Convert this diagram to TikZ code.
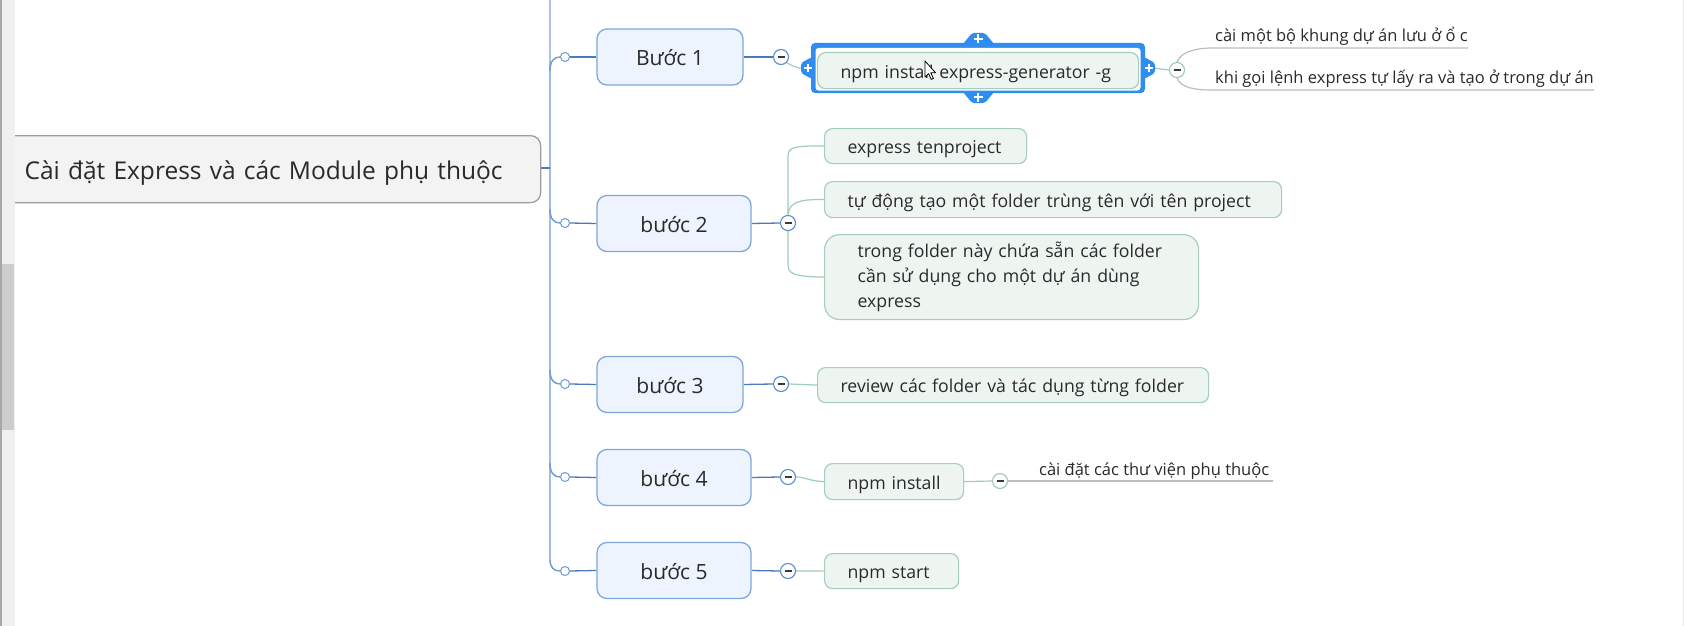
\documentclass[tikz,border=0pt]{standalone}
\usepackage{fontspec}
\setmainfont{Open Sans}
\usetikzlibrary{calc}
\definecolor{stepfill}{HTML}{EEF4FD}
\definecolor{stepborder}{HTML}{7FA7DC}
\definecolor{rootfill}{HTML}{F3F3F3}
\definecolor{rootborder}{HTML}{9E9E9E}
\definecolor{childfill}{HTML}{EEF5F1}
\definecolor{childborder}{HTML}{A5CFBC}
\definecolor{trunkc}{HTML}{6C9AD4}
\definecolor{trunklight}{HTML}{A9C6EA}
\definecolor{branchc}{HTML}{4B7BBB}
\definecolor{greenc}{HTML}{9FCDB7}
\definecolor{notec}{HTML}{BDBDBD}
\definecolor{selblue}{HTML}{2F8DF2}
\definecolor{txt}{HTML}{2A2A2A}
\definecolor{minusblue}{HTML}{5B8CCF}
\definecolor{minusgreen}{HTML}{9CCBB5}
\definecolor{minusdash}{HTML}{3A3A3A}
\definecolor{scrollbg}{HTML}{F0F0F0}
\definecolor{scrollline}{HTML}{A8A8A8}
\definecolor{scrollthumb}{HTML}{CDCDCD}
\definecolor{edgec}{HTML}{E8E8E8}
\pgfdeclarelayer{bg}
\pgfdeclarelayer{mid}
\pgfsetlayers{bg,mid,main}
\begin{document}
\begin{tikzpicture}[x=1pt,y=-1pt,
  rootbox/.style={draw=rootborder, fill=rootfill, line width=1.3pt, rounded corners=10pt,
    anchor=north west, align=left, inner ysep=0pt, text=txt, text height=24pt, text depth=3pt,
    font=\fontsize{24.5}{29}\selectfont},
  stepbox/.style={draw=stepborder, fill=stepfill, line width=1.3pt, rounded corners=10pt,
    minimum height=56pt, inner sep=0pt, align=center, text=txt, text height=20pt, text depth=2pt,
    font=\fontsize{21}{25}\selectfont},
  childbox/.style={draw=childborder, fill=childfill, line width=1.2pt, rounded corners=8pt,
    anchor=north west, inner xsep=23pt, inner ysep=0pt, align=left, text=txt,
    font=\fontsize{17.7}{25}\selectfont},
  onel/.style={text height=17pt, text depth=2pt},
  note/.style={anchor=base west, inner sep=0pt, text=txt, font=\fontsize{16.5}{20}\selectfont},
  dot/.style={circle, draw=trunkc, fill=white, line width=1pt, minimum size=9pt, inner sep=0pt},
  minus/.style={circle, draw=#1, fill=white, line width=1.1pt, minimum size=15pt, inner sep=0pt,
    path picture={\draw[line width=1.2pt, draw=minusdash]
      ($(path picture bounding box.center)+(-3.5,0)$) -- ($(path picture bounding box.center)+(3.5,0)$);}},
  trunk/.style={draw=trunkc, line width=1.4pt},
  branch/.style={draw=branchc, line width=1.3pt},
  gline/.style={draw=greenc, line width=1.2pt},
  uline/.style={draw=notec, line width=1.2pt},
  plus/.style={draw=white, line width=1.8pt}
]
\useasboundingbox (0,0) rectangle (1684,626);

% ---------- nodes ----------
\node[rootbox, minimum width=550pt, minimum height=67pt, text width=482pt, inner xsep=34pt]
  (root) at (-10,135) {Cài đặt Express và các Module phụ thuộc};

\node[stepbox, minimum width=146pt] (s1) at (670,57) {Bước 1};
\node[stepbox, minimum width=154pt] (s2) at (674,223.5) {bước 2};
\node[stepbox, minimum width=146pt] (s3) at (670,384.5) {bước 3};
\node[stepbox, minimum width=154pt] (s4) at (674,477.5) {bước 4};
\node[stepbox, minimum width=154pt] (s5) at (674,570.5) {bước 5};

\node[dot] (c1) at (565,57) {};
\node[dot] (c2) at (565,223) {};
\node[dot] (c3) at (565,384) {};
\node[dot] (c4) at (565,477) {};
\node[dot] (c5) at (565,571) {};

\node[minus=minusblue] (m1) at (781,57) {};
\node[minus=minusblue] (m2) at (788,223) {};
\node[minus=minusblue] (m3) at (781,384) {};
\node[minus=minusblue] (m4) at (788,477) {};
\node[minus=minusblue] (m5) at (788,571) {};
\node[minus=minusgreen] (m6) at (1000,481) {};
\node[minus=minusgreen] (m7) at (1177,70) {};

\node[childbox, onel, minimum height=36pt, text width=275pt] (npm) at (817,52)
  {\mbox{npm install express-generator -g}};
\node[childbox, onel, minimum height=35pt, text width=156pt] (ca) at (824,128)
  {\mbox{express tenproject}};
\node[childbox, onel, minimum height=36pt, text width=411pt] (cb) at (824,181)
  {\mbox{tự động tạo một folder trùng tên với tên project}};
\node[childbox, minimum height=85pt, text width=308pt, inner xsep=33pt, rounded corners=15pt] (cc) at (824,234)
  {\mbox{trong folder này chứa sẵn các folder}\\\mbox{cần sử dụng cho một dự án dùng}\\express};
\node[childbox, onel, minimum height=35pt, text width=345pt] (rv) at (817,367)
  {\mbox{review các folder và tác dụng từng folder}};
\node[childbox, onel, minimum height=36pt, text width=93pt] (ni) at (824,463)
  {\mbox{npm install}};
\node[childbox, onel, minimum height=35pt, text width=88pt] (ns) at (824,553)
  {\mbox{npm start}};

\node[note] (n1) at (1215,42) {cài một bộ khung dự án lưu ở ổ c};
\node[note] (n2) at (1215,84) {khi gọi lệnh express tự lấy ra và tạo ở trong dự án};
\node[note] (n3) at (1039,475) {cài đặt các thư viện phụ thuộc};

\coordinate (u1a) at (1213,48);
\coordinate (u1b) at (1468,48);
\coordinate (u2a) at (1213,90);
\coordinate (u2b) at (1594,90);
\coordinate (u3b) at (1273,481);
\coordinate (seltab) at (1153,68);

% ---------- connectors ----------
\begin{pgfonlayer}{bg}
  \fill[white] (0,0) rectangle (1684,626);
  \draw[draw=trunklight, line width=1.4pt] (550,-2) -- (550,60);
  \draw[trunk] (550,60) -- (550,559) .. controls (550,568) and (554,571) .. (c5.west);
  \draw[trunk] (550,71) .. controls (550,61) and (554,57) .. (c1.west);
  \draw[trunk] (550,209) .. controls (550,219) and (554,223) .. (c2.west);
  \draw[trunk] (550,370) .. controls (550,380) and (554,384) .. (c3.west);
  \draw[trunk] (550,463) .. controls (550,473) and (554,477) .. (c4.west);
  \draw[branch] (root.east |- 0,168) -- (550,168);
  \foreach \i in {1,...,5}{
    \draw[branch] (c\i.east) -- (s\i.west);
    \draw[branch] (s\i.east) -- (m\i.west);
  }
  \draw[gline] (m1.south east) .. controls (795,68) and (802,69) .. (npm.west);
  \draw[gline] (m2.north) -- (788,157) .. controls (788,148) and (791,145.5) .. (ca.west);
  \draw[gline] (788,214) .. controls (790,203) and (797,199) .. (cb.west);
  \draw[gline] (m2.south) -- (788,264) .. controls (788,273) and (791,276.5) .. (cc.west);
  \draw[gline] (m3.east) -- (rv.west);
  \draw[gline] (m4.east) .. controls (806,477) and (808,481) .. (ni.west);
  \draw[gline] (ni.east) -- (m6.west);
  \draw[uline] (m6.east) -- (u3b);
  \draw[gline] (m5.east) -- (ns.west);
  \draw[gline] (seltab) -- (m7.west);
  \draw[uline] (m7.north) .. controls (1181,52) and (1195,48) .. (u1a) -- (u1b);
  \draw[uline] (m7.south) .. controls (1181,88) and (1195,90) .. (u2a) -- (u2b);
\end{pgfonlayer}

% ---------- selection frame ----------
\begin{pgfonlayer}{mid}
  \fill[selblue, rounded corners=4pt] (811,43) rectangle (1145,93);
  \fill[white, rounded corners=3pt] (815.5,48) rectangle (1140.5,90.5);
  \fill[selblue, rounded corners=2pt] (963,44) -- (972,33) -- (985,33) -- (994,44) -- cycle;
  \fill[selblue, rounded corners=2pt] (963,92) -- (972,103) -- (985,103) -- (994,92) -- cycle;
  \fill[selblue, rounded corners=2pt] (812,57) -- (801,63) -- (801,73) -- (812,79) -- cycle;
  \fill[selblue, rounded corners=2pt] (1144,57) -- (1155,63) -- (1155,73) -- (1144,79) -- cycle;
  \draw[plus] (978,34.5) -- (978,43.5) (973.5,39) -- (982.5,39);
  \draw[plus] (978,92.5) -- (978,101.5) (973.5,97) -- (982.5,97);
  \draw[plus] (808,64) -- (808,72) (804,68) -- (812,68);
  \draw[plus] (1149,64) -- (1149,72) (1145,68) -- (1153,68);
\end{pgfonlayer}

% ---------- mouse cursor ----------
\draw[fill=white, draw=black, line width=0.8pt, line join=round]
  (925,61) -- (925,77) -- (928.6,73.6) -- (931.2,79.4) -- (933.4,78.4) -- (930.8,72.8) -- (935.6,72.8) -- cycle;

% ---------- window edges ----------
\fill[scrollbg] (0,0) rectangle (15,626);
\fill[scrollline] (0,0) rectangle (1.5,626);
\fill[scrollthumb] (2,264) rectangle (14,430);
\fill[edgec] (1682.5,0) rectangle (1684,626);
\end{tikzpicture}
\end{document}
